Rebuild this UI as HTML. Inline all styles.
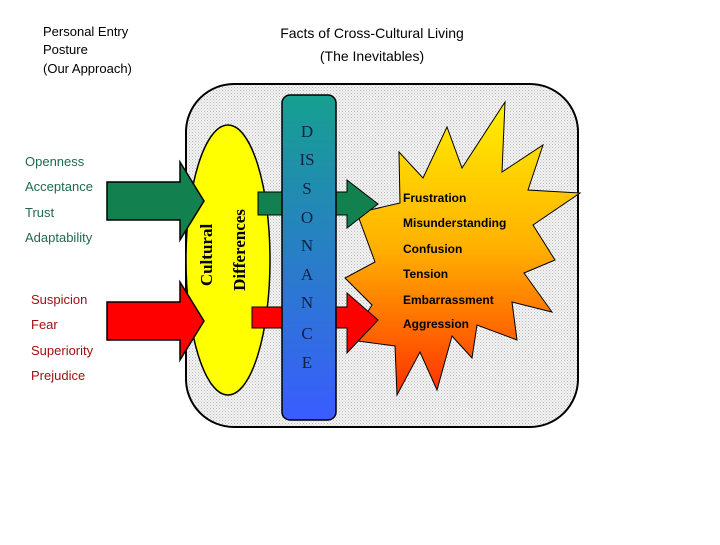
<!DOCTYPE html>
<html><head><style>
body{margin:0;background:#fff;width:720px;height:540px;overflow:hidden;font-family:"Liberation Sans",sans-serif}
</style></head><body>
<svg width="720" height="540" viewBox="0 0 720 540" xmlns="http://www.w3.org/2000/svg">
<defs>
<pattern id="hatch" width="3" height="3" patternUnits="userSpaceOnUse"><rect width="3" height="3" fill="#f2f2f2"/><rect width="1" height="1" fill="#bbb"/><rect x="1.5" y="1.5" width="1" height="1" fill="#ccc"/></pattern>
<linearGradient id="bar" x1="0" y1="0" x2="0" y2="1"><stop offset="0" stop-color="#16a090"/><stop offset="1" stop-color="#3a5cff"/></linearGradient>
<linearGradient id="star" x1="0" y1="0" x2="0" y2="1"><stop offset="0" stop-color="#fff000"/><stop offset="0.5" stop-color="#ffb000"/><stop offset="1" stop-color="#ff3000"/></linearGradient>
</defs>
<text x="43" y="36" font-size="13" fill="#000">Personal Entry</text>
<text x="43" y="54" font-size="13" fill="#000">Posture</text>
<text x="43" y="73" font-size="13" fill="#000">(Our Approach)</text>
<text x="372" y="38" font-size="14" text-anchor="middle" fill="#000">Facts of Cross-Cultural Living</text>
<text x="372" y="61" font-size="14" text-anchor="middle" fill="#000">(The Inevitables)</text>
<rect x="186" y="84" width="392" height="343" rx="48" fill="url(#hatch)" stroke="#000" stroke-width="2"/>
<ellipse cx="228" cy="260" rx="42" ry="135" fill="#ffff00" stroke="#000" stroke-width="1.5"/>
<polygon points="399,152 423,178 447,127 462,168 505,102 502,172 543,145 528,190 580,193 533,225 555,260 524,273 552,312 512,302 517,340 477,325 472,358 452,336 437,390 420,352 397,395 395,346 350,340 372,305 345,278 375,262 357,213 400,203" fill="url(#star)" stroke="#000" stroke-width="1"/>
<polygon points="258,192 347,192 347,180 378,204 347,228 347,215 258,215" fill="#138050" stroke="#000" stroke-width="1"/>
<polygon points="252,307 347,307 347,293 378,320 347,353 347,328 252,328" fill="#ff0000" stroke="#000" stroke-width="1"/>
<polygon points="107,182 180,182 180,162 204,201 180,240 180,220 107,220" fill="#138050" stroke="#000" stroke-width="1.5"/>
<polygon points="107,302 180,302 180,282 204,321 180,360 180,340 107,340" fill="#ff0000" stroke="#000" stroke-width="1.5"/>
<rect x="282" y="95" width="54" height="325" rx="8" fill="url(#bar)" stroke="#000" stroke-width="1.5"/>
<g font-family="Liberation Serif,serif" font-size="17" fill="#102040" text-anchor="middle">
<text x="307" y="137">D</text><text x="307" y="165">IS</text><text x="307" y="194">S</text><text x="307" y="223">O</text><text x="307" y="251">N</text><text x="307" y="280">A</text><text x="307" y="308">N</text><text x="307" y="339">C</text><text x="307" y="368">E</text>
</g>
<g font-family="Liberation Serif,serif" font-size="17" font-weight="bold" fill="#000" text-anchor="middle">
<text transform="translate(212,255) rotate(-90)">Cultural</text>
<text transform="translate(245,250) rotate(-90)">Differences</text>
</g>
<g font-size="12" font-weight="bold" fill="#000">
<text x="403" y="202">Frustration</text><text x="403" y="227">Misunderstanding</text><text x="403" y="253">Confusion</text><text x="403" y="278">Tension</text><text x="403" y="304">Embarrassment</text><text x="403" y="328">Aggression</text>
</g>
<g font-size="13" fill="#1f6a4a">
<text x="25" y="166">Openness</text><text x="25" y="191">Acceptance</text><text x="25" y="217">Trust</text><text x="25" y="242">Adaptability</text>
</g>
<g font-size="13" fill="#a01010">
<text x="31" y="304">Suspicion</text><text x="31" y="329">Fear</text><text x="31" y="355">Superiority</text><text x="31" y="380">Prejudice</text>
</g>
</svg>
</body></html>
